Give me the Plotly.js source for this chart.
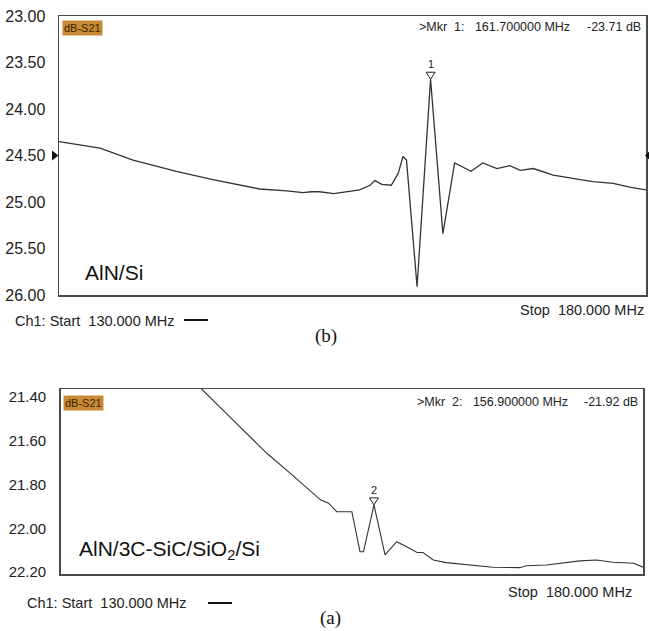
<!DOCTYPE html>
<html>
<head>
<meta charset="utf-8">
<script src="https://cdn.plot.ly/plotly-3.0.1.min.js"></script>
<style>html,body{margin:0;padding:0;background:#fff;}#chart{width:649px;height:631px;}</style>
</head>
<body>
<div id="chart"></div>
<script>
// ---- Panel (b): AlN/Si ----
const freqB = [130.0,131.5,133.5,136.3,140.0,143.1,145.0,147.1,149.4,150.8,151.5,152.2,153.4,155.6,156.5,156.9,157.5,158.3,158.9,159.3,159.6,160.5,161.65,162.7,163.7,165.1,166.1,167.3,168.4,169.3,170.4,172.1,174.4,175.5,177.2,178.6,180.0];
const lossB = [24.35,24.38,24.42,24.55,24.67,24.76,24.81,24.86,24.88,24.90,24.89,24.89,24.91,24.87,24.82,24.77,24.81,24.82,24.69,24.51,24.55,25.91,23.68,25.34,24.58,24.67,24.58,24.64,24.61,24.66,24.64,24.71,24.76,24.78,24.80,24.84,24.87];
const ticksB = [23.0,23.5,24.0,24.5,25.0,25.5,26.0];
const markerB = {label:'1', freqText:'161.700000 MHz', levelText:'-23.71 dB'};
const refLevelB = 24.5;

// ---- Panel (a): AlN/3C-SiC/SiO2/Si ----
const freqA = [141.6,142.1,144.8,146.0,147.7,149.7,151.4,152.3,153.0,153.7,155.0,155.7,156.0,156.9,157.85,158.85,159.7,160.6,161.1,162.0,163.1,164.9,167.1,169.4,170.0,171.7,173.4,174.6,176.0,177.4,179.2,179.9,180.0];
const lossA = [21.34,21.363,21.505,21.566,21.657,21.748,21.825,21.870,21.885,21.924,21.924,22.107,22.107,21.893,22.122,22.061,22.084,22.111,22.111,22.145,22.157,22.168,22.178,22.180,22.171,22.168,22.155,22.149,22.145,22.155,22.160,22.175,22.178];
const ticksA = [21.4,21.6,21.8,22.0,22.2];
const markerA = {label:'2', freqText:'156.900000 MHz', levelText:'-21.92 dB'};

const W = 649, H = 631;
const px = x => x / W;
const py = y => 1 - y / H;
const FONT = 'Liberation Sans, Arial, sans-serif';
const LINE = '#333';

// plot-box geometry (pixels) for each panel
const boxB = {l:59, r:646, t:16, b:295, y0:23, y1:26};
const boxA = {l:60.7, r:643, t:389, b:574, y0:21.363, y1:22.209};

function peakIndex(arr){ let k=0; for(let i=1;i<arr.length;i++){ if(arr[i]<arr[k]) k=i; } return k; }
const pkB = peakIndex(lossB);
let pkA = 0; { let best=1e9; for(let i=0;i<freqA.length;i++){ if(freqA[i]>156 && freqA[i]<158 && lossA[i]<best){best=lossA[i];pkA=i;} } }

// marker triangle (outline, tip on the peak) as a shape in data coordinates
function triPath(box, fx, fy){
  const dx = 50/(box.r-box.l), dy = (box.y1-box.y0)/(box.b-box.t);
  const hw = 4.5*dx, h = 7*dy;
  return 'M '+(fx-hw)+' '+(fy-h)+' L '+(fx+hw)+' '+(fy-h)+' L '+fx+' '+fy+' Z';
}

const traces = [
  {x:freqB, y:lossB, xaxis:'x', yaxis:'y', mode:'lines', line:{color:LINE, width:1.3}, hoverinfo:'skip'},
  {x:freqA, y:lossA, xaxis:'x2', yaxis:'y2', mode:'lines', line:{color:LINE, width:1.1}, hoverinfo:'skip'}
];

const axBase = {showgrid:false, zeroline:false, showline:true, mirror:true, linecolor:'#4a4a4a', linewidth:1.5};

const layout = {
  width:W, height:H, margin:{l:0,r:0,t:0,b:0},
  paper_bgcolor:'#fff', plot_bgcolor:'#fff', showlegend:false,
  xaxis: Object.assign({}, axBase, {domain:[px(boxB.l), px(boxB.r)], range:[130,180], showticklabels:false, ticks:''}),
  yaxis: Object.assign({}, axBase, {domain:[py(boxB.b), py(boxB.t)], range:[boxB.y1,boxB.y0], tickmode:'array', tickvals:ticksB,
          ticktext:ticksB.map(v=>v.toFixed(2)), ticks:'outside', ticklen:9, tickcolor:'rgba(0,0,0,0)',
          tickfont:{family:FONT, size:16, color:'#222'}}),
  xaxis2: Object.assign({}, axBase, {domain:[px(boxA.l), px(boxA.r)], range:[130,180], showticklabels:false, ticks:'', anchor:'y2'}),
  yaxis2: Object.assign({}, axBase, {domain:[py(boxA.b), py(boxA.t)], range:[boxA.y1,boxA.y0], tickmode:'array', tickvals:ticksA,
          ticktext:ticksA.map(v=>v.toFixed(2)), ticks:'outside', ticklen:10, tickcolor:'rgba(0,0,0,0)',
          tickfont:{family:FONT, size:15, color:'#222'}, anchor:'x2'}),
  annotations: [
    // panel b
    {xref:'paper', yref:'paper', x:px(62), y:py(20), xanchor:'left', yanchor:'top', text:'dB-S21', showarrow:false,
     bgcolor:'#c98a34', borderpad:1, font:{family:FONT, size:11, color:'#3b2400'}},
    {xref:'paper', yref:'paper', x:px(417), y:py(27), xanchor:'left', yanchor:'middle', showarrow:false,
     text:'>Mkr\u00a0 ' + markerB.label + ':\u00a0\u00a0 ' + markerB.freqText, font:{family:FONT, size:12.5, color:'#222'}},
    {xref:'paper', yref:'paper', x:px(643), y:py(27), xanchor:'right', yanchor:'middle', showarrow:false,
     text:markerB.levelText, font:{family:FONT, size:12.5, color:'#222'}},
    {xref:'x', yref:'y', x:freqB[pkB], y:lossB[pkB], xanchor:'center', yanchor:'bottom', showarrow:false,
     text:markerB.label, font:{family:FONT, size:11, color:'#222'}, yshift:7},
    {xref:'paper', yref:'paper', x:px(83), y:py(272), xanchor:'left', yanchor:'middle', showarrow:false,
     text:'AlN/Si', font:{family:FONT, size:21, color:'#111'}},
    {xref:'paper', yref:'paper', x:px(13), y:py(321), xanchor:'left', yanchor:'middle', showarrow:false,
     text:'Ch1: Start\u00a0 130.000 MHz', font:{family:FONT, size:14.5, color:'#222'}},
    {xref:'paper', yref:'paper', x:px(646), y:py(310), xanchor:'right', yanchor:'middle', showarrow:false,
     text:'Stop\u00a0 180.000 MHz', font:{family:FONT, size:14.5, color:'#222'}},
    {xref:'paper', yref:'paper', x:px(326), y:py(336), xanchor:'center', yanchor:'middle', showarrow:false,
     text:'(b)', font:{family:'Liberation Serif, Times New Roman, serif', size:19, color:'#111'}},
    // panel a
    {xref:'paper', yref:'paper', x:px(63), y:py(395), xanchor:'left', yanchor:'top', text:'dB-S21', showarrow:false,
     bgcolor:'#c98a34', borderpad:1, font:{family:FONT, size:11, color:'#3b2400'}},
    {xref:'paper', yref:'paper', x:px(415), y:py(402), xanchor:'left', yanchor:'middle', showarrow:false,
     text:'>Mkr\u00a0 ' + markerA.label + ':\u00a0\u00a0 ' + markerA.freqText, font:{family:FONT, size:12.5, color:'#222'}},
    {xref:'paper', yref:'paper', x:px(640), y:py(402), xanchor:'right', yanchor:'middle', showarrow:false,
     text:markerA.levelText, font:{family:FONT, size:12.5, color:'#222'}},
    {xref:'x2', yref:'y2', x:freqA[pkA], y:lossA[pkA], xanchor:'center', yanchor:'bottom', showarrow:false,
     text:markerA.label, font:{family:FONT, size:11, color:'#222'}, yshift:7},
    {xref:'paper', yref:'paper', x:px(77), y:py(550), xanchor:'left', yanchor:'middle', showarrow:false,
     text:'AlN/3C-SiC/SiO<sub>2</sub>/Si', font:{family:FONT, size:21, color:'#111'}},
    {xref:'paper', yref:'paper', x:px(25), y:py(603), xanchor:'left', yanchor:'middle', showarrow:false,
     text:'Ch1: Start\u00a0 130.000 MHz', font:{family:FONT, size:14.5, color:'#222'}},
    {xref:'paper', yref:'paper', x:px(634), y:py(592), xanchor:'right', yanchor:'middle', showarrow:false,
     text:'Stop\u00a0 180.000 MHz', font:{family:FONT, size:14.5, color:'#222'}},
    {xref:'paper', yref:'paper', x:px(330), y:py(618), xanchor:'center', yanchor:'middle', showarrow:false,
     text:'(a)', font:{family:'Liberation Serif, Times New Roman, serif', size:19, color:'#111'}}
  ],
  shapes: [
    {type:'line', xref:'paper', yref:'paper', x0:px(184), x1:px(208), y0:py(320), y1:py(320), line:{color:'#111', width:2}},
    {type:'line', xref:'paper', yref:'paper', x0:px(208), x1:px(232), y0:py(603), y1:py(603), line:{color:'#111', width:2}},
    {type:'path', xref:'x', yref:'y', line:{color:'#222', width:1}, path:triPath(boxB, freqB[pkB], lossB[pkB])},
    {type:'path', xref:'x2', yref:'y2', line:{color:'#222', width:1}, path:triPath(boxA, freqA[pkA], lossA[pkA])},
    {type:'path', xref:'paper', yref:'y', fillcolor:'#111', line:{width:0},
     path:'M '+px(52)+' '+(refLevelB-0.055)+' L '+px(58.5)+' '+refLevelB+' L '+px(52)+' '+(refLevelB+0.055)+' Z'},
    {type:'path', xref:'paper', yref:'y', fillcolor:'#111', line:{width:0},
     path:'M '+px(650)+' '+(refLevelB-0.055)+' L '+px(645)+' '+refLevelB+' L '+px(650)+' '+(refLevelB+0.055)+' Z'}
  ]
};

Plotly.newPlot('chart', traces, layout, {staticPlot:true, displayModeBar:false});
</script>
</body>
</html>
